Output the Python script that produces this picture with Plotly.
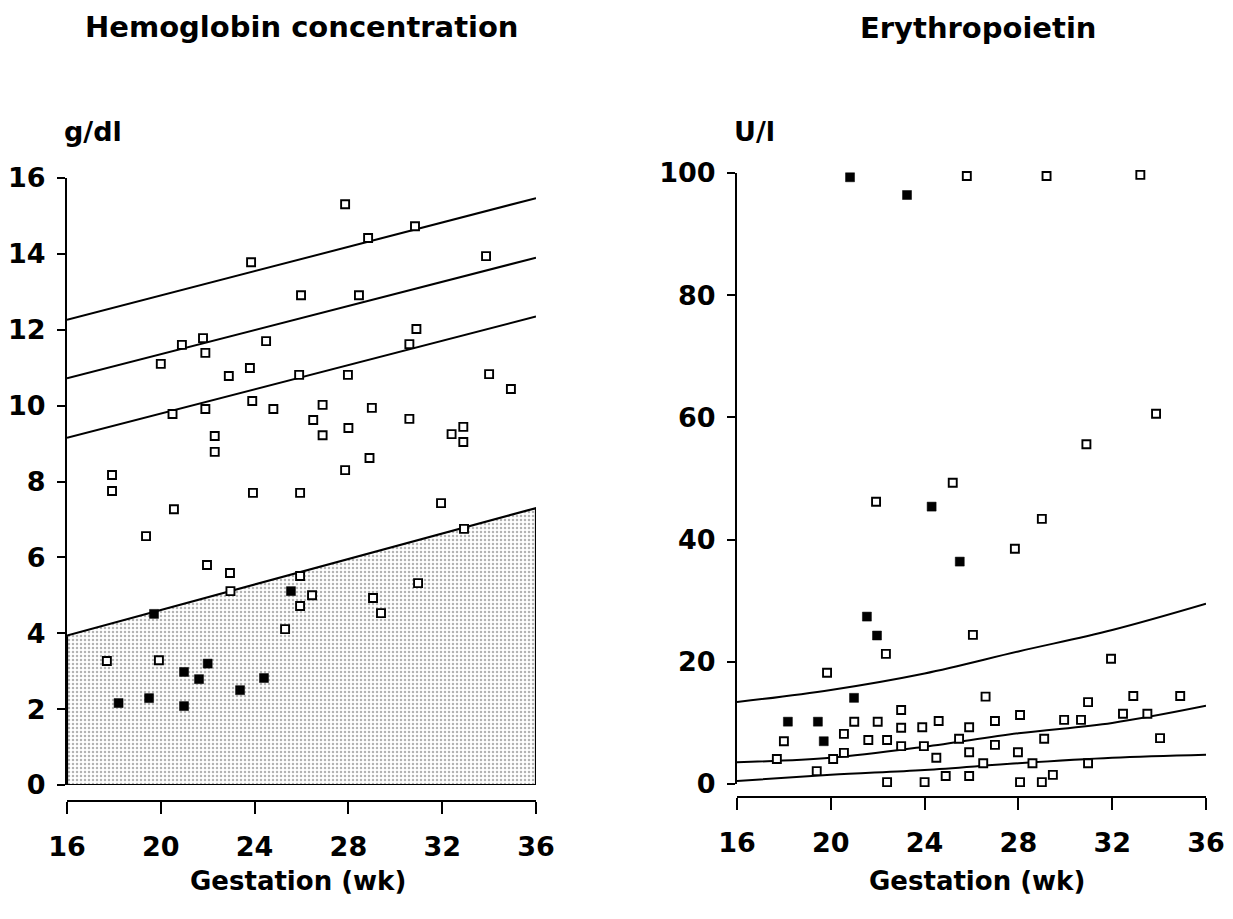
import plotly.graph_objects as go

# ---------------- data ----------------
# Hemoglobin panel (g/dl)
hb_open_wk = [17.92, 17.92, 19.37, 20.56, 23.93, 25.94, 21.97, 22.95, 22.97, 25.94,
              25.94, 25.3, 17.7, 19.92, 26.45, 27.86, 31.95, 32.93, 30.97, 29.05,
              29.39, 23.85, 25.98, 20.9, 21.8, 21.9, 24.49, 20.0, 22.9, 23.8,
              25.9, 23.9, 24.8, 20.5, 21.9, 22.3, 22.3, 27.86, 28.84, 30.84,
              33.87, 28.45, 30.9, 30.6, 27.98, 34.0, 34.93, 26.9, 29.0, 26.5,
              28.0, 26.9, 30.6, 32.4, 32.9, 32.9, 28.9]
hb_open_val = [8.17, 7.75, 6.56, 7.27, 7.70, 7.70, 5.80, 5.59, 5.11, 5.51,
               4.72, 4.11, 3.27, 3.29, 5.0, 8.3, 7.43, 6.75, 5.32, 4.93,
               4.53, 13.78, 12.91, 11.6, 11.78, 11.39, 11.7, 11.1, 10.78, 10.99,
               10.81, 10.12, 9.91, 9.78, 9.91, 9.2, 8.78, 15.31, 14.42, 14.73,
               13.94, 12.91, 12.02, 11.62, 10.81, 10.83, 10.44, 10.02, 9.94, 9.62,
               9.41, 9.22, 9.65, 9.25, 9.44, 9.04, 8.62]
hb_fill_wk = [19.71, 25.55, 20.99, 22.0, 21.63, 18.2, 19.5, 20.99, 23.38, 24.4]
hb_fill_val = [4.51, 5.11, 2.98, 3.2, 2.79, 2.16, 2.29, 2.08, 2.5, 2.82]

hb_line_wk = [16, 36]
hb_upper = [12.26, 15.47]
hb_mid = [10.72, 13.9]
hb_low = [9.15, 12.35]
hb_limit = [3.94, 7.30]

# Erythropoietin panel (U/l)
epo_open_wk = [25.8, 29.2, 33.2, 33.87, 30.9, 25.2, 21.93, 22.35, 19.84, 23.0,
               21.0, 22.0, 24.6, 23.0, 23.9, 25.9, 18.0, 20.56, 21.6, 22.4,
               23.0, 23.97, 25.47, 25.9, 17.7, 20.1, 20.56, 24.5, 19.4, 22.4,
               24.0, 24.9, 25.9, 29.0, 27.85, 26.06, 31.95, 26.6, 30.97, 32.9,
               34.9, 27.0, 28.07, 29.95, 30.67, 32.46, 33.5, 34.04, 27.0, 29.1,
               27.98, 26.5, 28.6, 30.97, 28.07, 29.0, 29.47]
epo_open_val = [99.5, 99.5, 99.7, 60.6, 55.6, 49.3, 46.2, 21.3, 18.2, 12.1,
                10.2, 10.2, 10.3, 9.2, 9.3, 9.3, 7.0, 8.2, 7.2, 7.2,
                6.2, 6.2, 7.4, 5.2, 4.1, 4.1, 5.1, 4.3, 2.1, 0.3,
                0.3, 1.3, 1.3, 43.4, 38.5, 24.4, 20.5, 14.3, 13.4, 14.4,
                14.4, 10.3, 11.3, 10.5, 10.5, 11.5, 11.5, 7.5, 6.4, 7.4,
                5.2, 3.4, 3.4, 3.4, 0.3, 0.3, 1.5]
epo_fill_wk = [20.82, 23.25, 24.3, 25.5, 21.54, 21.97, 20.99, 18.17, 19.45, 19.7]
epo_fill_val = [99.3, 96.4, 45.4, 36.4, 27.4, 24.3, 14.1, 10.2, 10.2, 7.0]

epo_curve_wk = [16, 20, 24, 28, 32, 36]
epo_upper = [13.4, 15.4, 18.1, 21.7, 25.2, 29.5]
epo_mid = [3.55, 4.3, 6.1, 8.3, 10.0, 12.8]
epo_low = [0.5, 1.5, 2.3, 3.4, 4.3, 4.8]

x_ticks = [16, 20, 24, 28, 32, 36]
hb_ticks = [0, 2, 4, 6, 8, 10, 12, 14, 16]
epo_ticks = [0, 20, 40, 60, 80, 100]

# ---------------- figure ----------------
PAGE_PAD = 8                      # default body margin of the html page
W, H = 1233 - 2 * PAGE_PAD, 919 - 2 * PAGE_PAD
FONT = "DejaVu Sans"
fig = go.Figure()

def px_x(p):
    return (p - PAGE_PAD) / W

def px_y(p):
    return (H - (p - PAGE_PAD)) / H

open_marker = dict(symbol="square", size=8, color="white",
                   line=dict(color="black", width=1.9))
fill_marker = dict(symbol="square", size=9, color="black",
                   line=dict(color="black", width=0.5))

# shaded region below the lower limit
shade_x = hb_line_wk + hb_line_wk[::-1] + [hb_line_wk[0]]
shade_y = hb_limit + [0, 0] + [hb_limit[0]]
fig.add_trace(go.Scatter(x=shade_x, y=shade_y, mode="lines", fill="toself",
                         fillcolor="white",
                         fillpattern=dict(shape=".", size=4, solidity=0.3,
                                          fgcolor="#b3b3b3", bgcolor="white"),
                         line=dict(color="black", width=2.2),
                         xaxis="x", yaxis="y", hoverinfo="skip"))
for ys in (hb_upper, hb_mid, hb_low):
    fig.add_trace(go.Scatter(x=hb_line_wk, y=ys, mode="lines",
                             line=dict(color="black", width=2),
                             xaxis="x", yaxis="y"))
fig.add_trace(go.Scatter(x=hb_open_wk, y=hb_open_val, mode="markers",
                         marker=open_marker, cliponaxis=False,
                         xaxis="x", yaxis="y"))
fig.add_trace(go.Scatter(x=hb_fill_wk, y=hb_fill_val, mode="markers",
                         marker=fill_marker, cliponaxis=False,
                         xaxis="x", yaxis="y"))

for ys in (epo_upper, epo_mid, epo_low):
    fig.add_trace(go.Scatter(x=epo_curve_wk, y=ys, mode="lines",
                             line=dict(color="black", width=2, shape="spline"),
                             xaxis="x2", yaxis="y2"))
fig.add_trace(go.Scatter(x=epo_open_wk, y=epo_open_val, mode="markers",
                         marker=open_marker, cliponaxis=False,
                         xaxis="x2", yaxis="y2"))
fig.add_trace(go.Scatter(x=epo_fill_wk, y=epo_fill_val, mode="markers",
                         marker=fill_marker, cliponaxis=False,
                         xaxis="x2", yaxis="y2"))

tickfont = dict(family=FONT, size=27, color="black", weight="bold")
common_x = dict(range=[16, 36], tickvals=x_ticks, showline=True, linewidth=2,
                linecolor="black", ticks="outside", ticklen=12, tickwidth=1.6,
                tickcolor="black", showgrid=False, zeroline=False,
                tickfont=tickfont, anchor="free", ticklabelstandoff=10,
                automargin=False)
common_y = dict(showline=True, linewidth=2, linecolor="black",
                ticks="outside", ticklen=8, tickwidth=1.6, tickcolor="black",
                showgrid=False, zeroline=False, tickfont=tickfont,
                ticklabelstandoff=6, automargin=False)

fig.update_layout(
    template="none",
    width=W, height=H, margin=dict(l=0, r=0, t=0, b=0, autoexpand=False),
    paper_bgcolor="white", plot_bgcolor="rgba(0,0,0,0)", showlegend=False,
    xaxis=dict(domain=[px_x(67), px_x(536)], position=px_y(801), **common_x),
    yaxis=dict(domain=[px_y(785), px_y(178)], range=[0, 16], tickvals=hb_ticks,
               anchor="x", **common_y),
    xaxis2=dict(domain=[px_x(737), px_x(1206)], position=px_y(797), **common_x),
    yaxis2=dict(domain=[px_y(784), px_y(173)], range=[0, 100],
                tickvals=epo_ticks, anchor="x2", **common_y),
)

def label(text, x, y, size=27, xanchor="center"):
    fig.add_annotation(text=text, x=px_x(x), y=px_y(y), xref="paper",
                       yref="paper", showarrow=False, xanchor=xanchor,
                       yanchor="middle", borderpad=0,
                       font=dict(family=FONT, size=size, color="black",
                                 weight="bold"))

label("Hemoglobin concentration", 302, 27, size=29)
label("Erythropoietin", 978, 28, size=29)
label("g/dl", 63, 132, xanchor="left")
label("U/l", 733, 131, xanchor="left")
label("Gestation (wk)", 298, 881, size=26)
label("Gestation (wk)", 977, 881, size=26)

fig.write_html("out.html")
